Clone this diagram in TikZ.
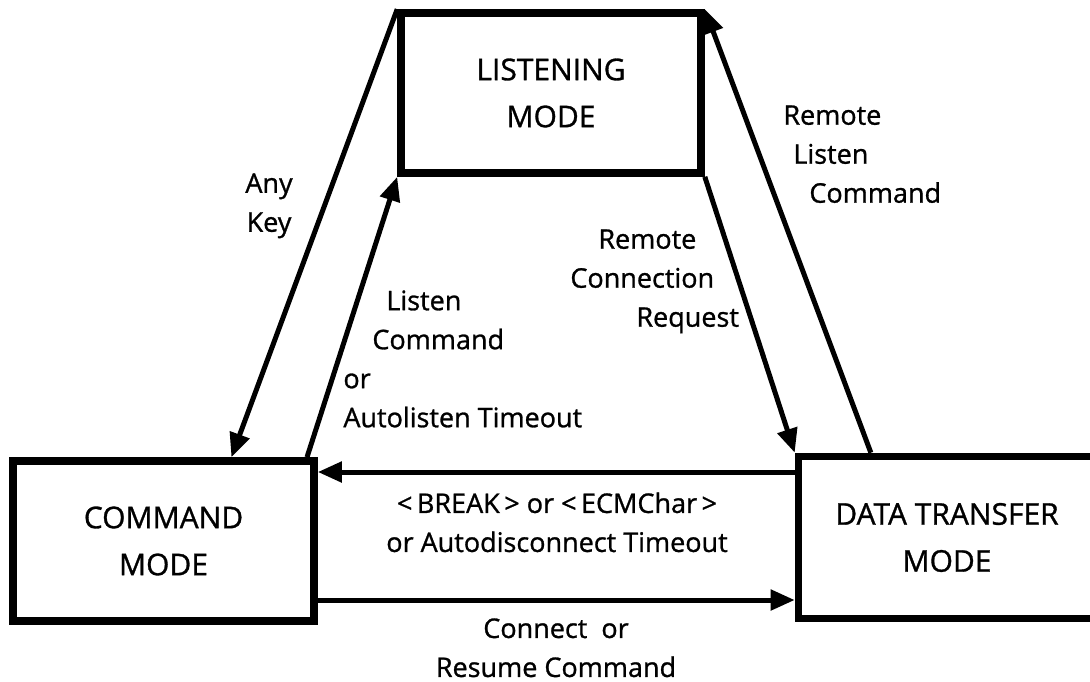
\documentclass[tikz,border=0pt]{standalone}
\usepackage{fontspec}
\setmainfont{Open Sans}[FakeBold=1.0]
\usetikzlibrary{arrows.meta,positioning,calc}

\begin{document}
\begin{tikzpicture}[x=0.5pt,y=-0.5pt,
    modebox/.style={draw,line width=3.8pt,minimum width=150pt,minimum height=80pt,
        align=center,inner sep=0pt,font=\fontsize{15pt}{23.5pt}\selectfont},
    trans/.style={line width=2.5pt,-{Triangle[length=12pt,width=10pt]}},
    lbl/.style={inner sep=0pt,font=\fontsize{13.5pt}{19.5pt}\selectfont}]
\useasboundingbox (0,0) rectangle (1090,681);
% the three modes
\node[modebox] (listen) at (551,93) {LISTENING\\MODE};
\node[modebox,minimum width=150.5pt] (cmd) at (163.5,541) {COMMAND\\MODE};
\node[modebox,minimum width=148.5pt,minimum height=81pt] (data) at (947,537.5) {DATA TRANSFER\\MODE};
% levels of the two horizontal transitions
\coordinate (brk) at (556,472);
\coordinate (con) at (556,600);
% transitions
\draw[trans] (listen.north west) -- ($(cmd.north west)!0.72!(cmd.north east)$);
\draw[trans] ($(cmd.north west)!0.965!(cmd.north east)$) -- (listen.south west);
\draw[trans] (listen.south east) -- (data.north west);
\draw[trans] ($(data.north west)!0.25!(data.north east)$) -- (listen.north east);
\draw[trans] (data.west |- brk) -- (cmd.east |- brk);
\draw[trans] (cmd.east |- con) -- (data.west |- con);
% labels
\node[lbl,align=center,anchor=north] (anykey) at (269,173) {Any\\Key};
\node[lbl,align=left,anchor=north west] (listencmd) at (343,290)
    {\hspace*{21.5pt}Listen\\\hspace*{14.5pt}Command\\or\\Autolisten Timeout};
\node[lbl,align=left,anchor=north west] (remconn) at (570,229)
    {\hspace*{14pt}Remote\\Connection\\\hspace*{33pt}Request};
\node[lbl,align=left,anchor=north west] (remlisten) at (783,105)
    {Remote\\\hspace*{5pt}Listen\\\hspace*{13pt}Command};
\node[lbl,align=center,anchor=north] (brklbl) at (557,492)
    {<\,BREAK\,> or <\,ECMChar\,>\\or Autodisconnect Timeout};
\node[lbl,align=center,anchor=north] (conlbl) at (556,618)
    {Connect~ or\\Resume Command};
\end{tikzpicture}
\end{document}
